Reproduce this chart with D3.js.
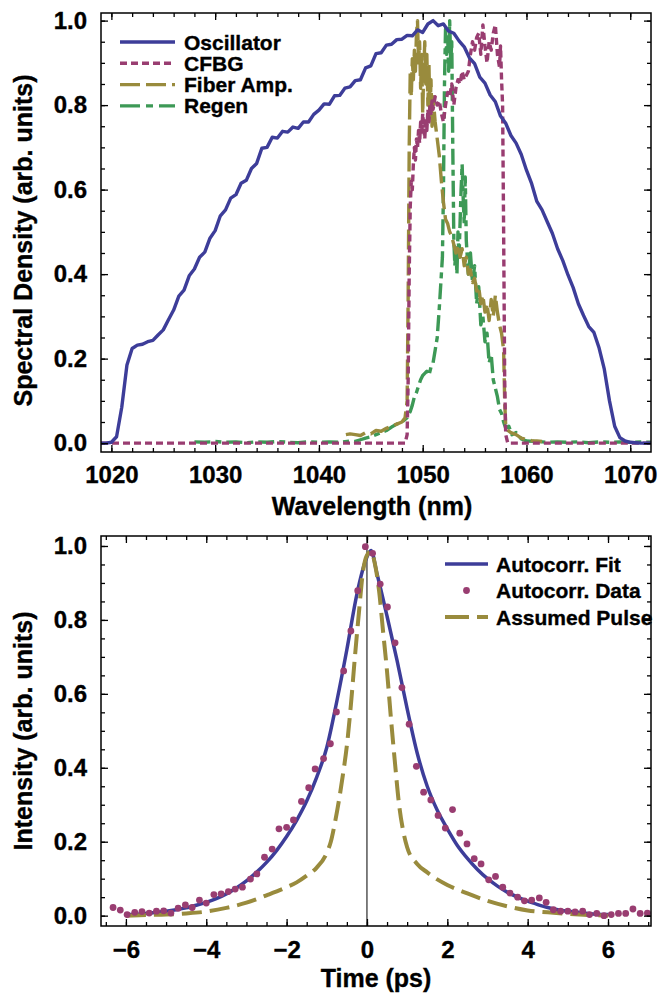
<!DOCTYPE html>
<html lang="en">
<head>
<meta charset="UTF-8">
<title>Spectra and autocorrelation</title>
<script src="https://d3js.org/d3.v7.min.js"></script>
<style>
  body { margin: 0; background: #fff; }
  svg text { font-family: "Liberation Sans", Arial, Helvetica, sans-serif; font-weight: bold; fill: #000; stroke: #000; stroke-width: 0.35px; }
  .axis text { font-size: 24px; }
  .axis line { stroke: #000; stroke-width: 1.3px; }
  .title { font-size: 25px; }
  .legend text { font-size: 21px; }
</style>
</head>
<body>
<div id="chart"></div>
<script>

// ---------- top panel: spectra, [wavelength nm, spectral density] ----------
const oscillator = [[1019.0,0.000],[1019.5,0.000],[1020.0,0.002],[1020.5,0.015],[1021.0,0.085],[1021.5,0.185],[1022.0,0.224],[1022.5,0.232],[1023.0,0.234],[1023.5,0.240],[1024.0,0.243],[1024.5,0.256],[1025.0,0.268],[1025.5,0.292],[1026.0,0.315],[1026.5,0.348],[1027.0,0.362],[1027.5,0.396],[1028.0,0.412],[1028.5,0.440],[1029.0,0.452],[1029.5,0.485],[1030.0,0.503],[1030.5,0.538],[1031.0,0.552],[1031.5,0.580],[1032.0,0.588],[1032.5,0.615],[1033.0,0.622],[1033.5,0.650],[1034.0,0.662],[1034.5,0.698],[1035.0,0.700],[1035.5,0.724],[1036.0,0.722],[1036.5,0.738],[1037.0,0.736],[1037.5,0.748],[1038.0,0.745],[1038.5,0.760],[1039.0,0.760],[1039.5,0.778],[1040.0,0.788],[1040.5,0.803],[1041.0,0.802],[1041.5,0.822],[1042.0,0.823],[1042.5,0.840],[1043.0,0.843],[1043.5,0.858],[1044.0,0.860],[1044.5,0.888],[1045.0,0.893],[1045.5,0.922],[1046.0,0.924],[1046.5,0.942],[1047.0,0.944],[1047.5,0.955],[1048.0,0.956],[1048.5,0.965],[1049.0,0.964],[1049.5,0.978],[1050.0,0.972],[1050.5,0.992],[1051.0,1.000],[1051.5,0.988],[1052.0,0.992],[1052.5,0.975],[1053.0,0.970],[1053.5,0.952],[1054.0,0.938],[1054.5,0.912],[1055.0,0.898],[1055.5,0.866],[1056.0,0.852],[1056.5,0.824],[1057.0,0.808],[1057.5,0.774],[1058.0,0.757],[1058.5,0.728],[1059.0,0.710],[1059.5,0.683],[1060.0,0.646],[1060.5,0.614],[1061.0,0.572],[1061.5,0.552],[1062.0,0.524],[1062.5,0.496],[1063.0,0.460],[1063.5,0.432],[1064.0,0.398],[1064.5,0.368],[1065.0,0.330],[1065.5,0.302],[1066.0,0.276],[1066.5,0.262],[1067.0,0.225],[1067.5,0.175],[1068.0,0.100],[1068.5,0.040],[1069.0,0.013],[1069.5,0.005],[1070.0,0.002],[1070.5,0.001],[1071.0,0.000],[1072.0,0.000]];

const cfbg = [[1019.0,0.0],[1048.3,0.0],[1048.5,0.02],[1048.6,0.15],[1048.7,0.40],[1048.8,0.56],[1048.9,0.62],[1049.0,0.60],[1049.1,0.66],[1049.2,0.70],[1049.3,0.67],[1049.4,0.72],[1049.5,0.70],[1049.6,0.74],[1049.7,0.71],[1049.8,0.76],[1049.9,0.73],[1050.0,0.78],[1050.1,0.75],[1050.2,0.72],[1050.3,0.77],[1050.4,0.74],[1050.5,0.79],[1050.6,0.76],[1050.7,0.80],[1050.8,0.78],[1050.9,0.81],[1051.0,0.79],[1051.2,0.82],[1051.4,0.80],[1051.6,0.81],[1051.8,0.78],[1052.0,0.76],[1052.2,0.80],[1052.4,0.83],[1052.6,0.82],[1052.8,0.85],[1053.0,0.80],[1053.2,0.84],[1053.4,0.86],[1053.6,0.85],[1053.8,0.88],[1054.0,0.86],[1054.2,0.87],[1054.4,0.88],[1054.6,0.92],[1054.8,0.95],[1055.0,0.93],[1055.2,0.96],[1055.4,0.97],[1055.6,0.92],[1055.8,0.99],[1056.0,0.94],[1056.2,0.90],[1056.4,0.95],[1056.6,0.93],[1056.8,0.97],[1057.0,0.99],[1057.2,0.92],[1057.4,0.89],[1057.5,0.94],[1057.6,0.86],[1057.7,0.80],[1057.8,0.50],[1057.9,0.15],[1058.0,0.02],[1058.2,0.0],[1072.0,0.0]];

const fiberAmp = [[1042.6,0.020],[1043.0,0.022],[1043.5,0.020],[1044.0,0.018],[1044.5,0.025],[1045.0,0.022],[1045.5,0.030],[1046.0,0.028],[1046.5,0.035],[1047.0,0.040],[1047.5,0.045],[1048.0,0.050],[1048.3,0.060],[1048.5,0.10],[1048.6,0.35],[1048.7,0.70],[1048.8,0.88],[1048.9,0.82],[1049.0,0.91],[1049.1,0.86],[1049.2,0.93],[1049.3,0.88],[1049.4,0.97],[1049.5,1.00],[1049.6,0.90],[1049.7,0.95],[1049.8,0.84],[1049.9,0.92],[1050.0,0.78],[1050.1,0.88],[1050.2,0.95],[1050.3,0.85],[1050.4,0.92],[1050.5,0.80],[1050.6,0.90],[1050.7,0.77],[1050.8,0.86],[1050.9,0.75],[1051.0,0.82],[1051.2,0.76],[1051.4,0.72],[1051.6,0.68],[1051.8,0.62],[1052.0,0.57],[1052.2,0.53],[1052.4,0.52],[1052.6,0.50],[1052.8,0.49],[1053.0,0.47],[1053.2,0.45],[1053.4,0.47],[1053.6,0.44],[1053.8,0.46],[1054.0,0.42],[1054.2,0.44],[1054.4,0.40],[1054.6,0.41],[1054.8,0.38],[1055.0,0.39],[1055.2,0.36],[1055.4,0.37],[1055.6,0.33],[1055.8,0.35],[1056.0,0.31],[1056.2,0.33],[1056.4,0.29],[1056.6,0.34],[1056.8,0.30],[1057.0,0.35],[1057.2,0.31],[1057.4,0.28],[1057.6,0.26],[1057.8,0.22],[1057.9,0.10],[1058.0,0.040],[1058.2,0.030],[1058.5,0.025],[1059.0,0.020],[1059.5,0.012],[1060.0,0.008],[1060.5,0.006],[1061.0,0.005],[1061.5,0.004]];

const regen = [[1028.0,0.003],[1029.0,0.002],[1030.0,0.004],[1031.0,0.002],[1032.0,0.003],[1033.0,0.001],[1034.0,0.003],[1035.0,0.002],[1036.0,0.004],[1037.0,0.002],[1038.0,0.001],[1039.0,0.003],[1040.0,0.002],[1041.0,0.003],[1042.0,0.002],[1043.0,0.005],[1043.5,0.004],[1044.0,0.008],[1044.5,0.012],[1045.0,0.015],[1045.5,0.020],[1046.0,0.025],[1046.5,0.030],[1047.0,0.038],[1047.5,0.045],[1048.0,0.050],[1048.5,0.060],[1048.8,0.075],[1049.0,0.090],[1049.2,0.110],[1049.4,0.120],[1049.6,0.135],[1049.8,0.150],[1050.0,0.160],[1050.2,0.165],[1050.4,0.170],[1050.6,0.160],[1050.8,0.180],[1051.0,0.190],[1051.2,0.220],[1051.4,0.250],[1051.6,0.320],[1051.8,0.400],[1051.9,0.440],[1052.0,0.600],[1052.1,0.850],[1052.2,0.980],[1052.3,0.920],[1052.4,0.970],[1052.5,0.880],[1052.6,1.000],[1052.7,0.900],[1052.8,0.950],[1052.9,0.700],[1053.0,0.480],[1053.1,0.420],[1053.2,0.460],[1053.3,0.400],[1053.4,0.500],[1053.5,0.440],[1053.6,0.520],[1053.7,0.600],[1053.8,0.660],[1053.9,0.580],[1054.0,0.520],[1054.1,0.630],[1054.2,0.480],[1054.3,0.440],[1054.4,0.400],[1054.6,0.450],[1054.8,0.380],[1055.0,0.420],[1055.2,0.330],[1055.4,0.370],[1055.6,0.280],[1055.8,0.300],[1056.0,0.240],[1056.2,0.260],[1056.4,0.190],[1056.6,0.210],[1056.8,0.150],[1057.0,0.130],[1057.2,0.110],[1057.4,0.080],[1057.6,0.070],[1057.8,0.050],[1058.0,0.035],[1058.3,0.040],[1058.6,0.020],[1059.0,0.025],[1059.5,0.010],[1060.0,0.005],[1061.0,0.004],[1062.0,0.002],[1063.0,0.003],[1064.0,0.002],[1065.0,0.003],[1066.0,0.001],[1067.0,0.003],[1068.0,0.002],[1069.0,0.003],[1070.0,0.002],[1071.0,0.003],[1072.0,0.002]];

const spectraNames = ["Oscillator", "CFBG", "Fiber Amp.", "Regen"];
const wavelengthTicks = [1020, 1030, 1040, 1050, 1060, 1070];
const densityTicks = [0, 0.2, 0.4, 0.6, 0.8, 1.0];

// ---------- bottom panel: autocorrelation ----------
const fitTime  = [-6.0,-5.75,-5.5,-5.25,-5.0,-4.75,-4.5,-4.25,-4.0,-3.75,-3.5,-3.25,-3.0,-2.75,-2.5,-2.25,-2.0,-1.75,-1.5,-1.25,-1.0,-0.75,-0.5,-0.25,0.0,0.1,0.25,0.5,0.75,1.0,1.25,1.5,1.75,2.0,2.25,2.5,2.75,3.0,3.25,3.5,3.75,4.0,4.25,4.5,4.75,5.0,5.25,5.5,5.75,6.0];
const fitValue = [0.003,0.004,0.006,0.009,0.012,0.016,0.021,0.028,0.036,0.046,0.059,0.075,0.094,0.117,0.144,0.176,0.214,0.258,0.310,0.375,0.455,0.580,0.720,0.870,0.970,0.988,0.925,0.810,0.690,0.560,0.440,0.350,0.285,0.235,0.190,0.155,0.125,0.100,0.080,0.063,0.050,0.039,0.030,0.022,0.016,0.012,0.009,0.006,0.004,0.003];

const dataTime  = [-6.32,-6.14,-5.97,-5.78,-5.60,-5.42,-5.24,-5.06,-4.88,-4.70,-4.52,-4.35,-4.17,-4.00,-3.81,-3.63,-3.45,-3.28,-3.10,-2.90,-2.74,-2.55,-2.36,-2.19,-2.00,-1.83,-1.63,-1.45,-1.29,-1.08,-0.91,-0.76,-0.58,-0.40,-0.23,-0.04,0.14,0.33,0.51,0.70,0.87,1.05,1.23,1.41,1.59,1.77,1.95,2.13,2.31,2.49,2.67,2.84,3.03,3.20,3.38,3.56,3.75,3.92,4.10,4.29,4.46,4.64,4.82,5.00,5.18,5.37,5.54,5.72,5.90,6.08,6.26,6.44,6.62,6.80,6.98];
const dataValue = [0.022,0.015,0.003,0.009,0.011,0.007,0.012,0.013,0.007,0.020,0.029,0.022,0.042,0.034,0.057,0.059,0.065,0.072,0.077,0.099,0.113,0.158,0.180,0.235,0.239,0.259,0.309,0.346,0.397,0.425,0.465,0.551,0.662,0.770,0.879,0.998,0.980,0.897,0.835,0.738,0.617,0.518,0.404,0.334,0.313,0.271,0.237,0.287,0.223,0.194,0.154,0.140,0.097,0.106,0.077,0.061,0.050,0.040,0.042,0.048,0.036,0.016,0.012,0.012,0.010,0.012,0.003,0.006,0.000,0.003,0.006,0.006,0.018,0.006,0.007];

const pulseTime  = [-6.0,-5.5,-5.0,-4.5,-4.0,-3.5,-3.0,-2.5,-2.0,-1.75,-1.5,-1.25,-1.0,-0.9,-0.8,-0.7,-0.6,-0.5,-0.4,-0.3,-0.2,-0.1,0.0,0.1,0.2,0.3,0.4,0.5,0.6,0.7,0.8,0.9,1.0,1.25,1.5,1.75,2.0,2.5,3.0,3.5,4.0,4.5,5.0,5.5,6.0];
const pulseValue = [0.000,0.002,0.003,0.006,0.011,0.021,0.035,0.055,0.077,0.090,0.108,0.130,0.170,0.200,0.250,0.310,0.380,0.460,0.570,0.700,0.820,0.930,0.975,0.985,0.950,0.880,0.770,0.660,0.530,0.410,0.300,0.230,0.185,0.140,0.117,0.098,0.083,0.060,0.040,0.025,0.014,0.009,0.005,0.002,0.000];

const autocorrNames = ["Autocorr. Fit", "Autocorr. Data", "Assumed Pulse"];
const timeTicks = [-6, -4, -2, 0, 2, 4, 6];
const intensityTicks = [0, 0.2, 0.4, 0.6, 0.8, 1.0];

// ---------- colours ----------
const blue = "#3d3d99", magenta = "#993d71", gold = "#998b3d", green = "#3d9956";

const svg = d3.select("#chart").append("svg")
    .attr("width", 658)
    .attr("height", 996);

// draws the framed box with inward ticks on all sides
function frame(g, x, y, w, h, xMajor, xMinor, yMajor, yMinor, xFmt, yFmt, xPad) {
    // minor ticks
    g.append("g").attr("class", "axis").attr("transform", "translate(0," + h + ")")
        .call(d3.axisBottom(x).tickValues(xMinor).tickSize(-4).tickFormat(""));
    g.append("g").attr("class", "axis")
        .call(d3.axisTop(x).tickValues(xMinor).tickSize(-4).tickFormat(""));
    g.append("g").attr("class", "axis")
        .call(d3.axisLeft(y).tickValues(yMinor).tickSize(-4).tickFormat(""));
    g.append("g").attr("class", "axis").attr("transform", "translate(" + w + ",0)")
        .call(d3.axisRight(y).tickValues(yMinor).tickSize(-4).tickFormat(""));
    // major ticks with labels on bottom and left
    g.append("g").attr("class", "axis").attr("transform", "translate(0," + h + ")")
        .call(d3.axisBottom(x).tickValues(xMajor).tickSize(-7).tickPadding(xPad).tickFormat(xFmt));
    g.append("g").attr("class", "axis")
        .call(d3.axisTop(x).tickValues(xMajor).tickSize(-7).tickFormat(""));
    g.append("g").attr("class", "axis")
        .call(d3.axisLeft(y).tickValues(yMajor).tickSize(-7).tickPadding(14).tickFormat(yFmt));
    g.append("g").attr("class", "axis").attr("transform", "translate(" + w + ",0)")
        .call(d3.axisRight(y).tickValues(yMajor).tickSize(-7).tickFormat(""));
    g.selectAll(".domain").remove();

    g.append("rect")
        .attr("width", w).attr("height", h)
        .attr("fill", "none").attr("stroke", "#000").attr("stroke-width", 1.5);
}

// ===================== top panel =====================
const topBox = { left: 101, top: 13, width: 550, height: 439 };
const gTop = svg.append("g").attr("transform", "translate(" + topBox.left + "," + topBox.top + ")");

const xWl = d3.scaleLinear().domain([1019, 1072]).range([0, topBox.width]);
const yDen = d3.scaleLinear().domain([-0.021, 1.018]).range([topBox.height, 0]);

gTop.append("clipPath").attr("id", "clipTop")
    .append("rect").attr("width", topBox.width).attr("height", topBox.height);

const lineTop = d3.line()
    .x(function (d) { return xWl(d[0]); })
    .y(function (d) { return yDen(d[1]); });

const spectra = [
    { data: regen, color: green, dash: "16,5,6,5" },
    { data: fiberAmp, color: gold, dash: "20,6" },
    { data: cfbg, color: magenta, dash: "7,4" },
    { data: oscillator, color: blue, dash: null }
];

const curvesTop = gTop.append("g").attr("clip-path", "url(#clipTop)");
spectra.forEach(function (s) {
    curvesTop.append("path")
        .datum(s.data)
        .attr("d", lineTop)
        .attr("fill", "none")
        .attr("stroke", s.color)
        .attr("stroke-width", 3.4)
        .attr("stroke-linejoin", "round")
        .attr("stroke-dasharray", s.dash);
});

frame(gTop, xWl, yDen, topBox.width, topBox.height,
    wavelengthTicks, d3.range(1020, 1072, 2),
    densityTicks, d3.range(0, 1.01, 0.05),
    d3.format("d"), d3.format(".1f"), 14);

// legend (top)
const legTop = svg.append("g").attr("class", "legend");
const legStyles = [
    { color: blue, dash: null },
    { color: magenta, dash: "7,4" },
    { color: gold, dash: "20,6" },
    { color: green, dash: "20,6,7,6" }
];
spectraNames.forEach(function (name, i) {
    const yy = 42 + i * 21.3;
    legTop.append("line")
        .attr("x1", 120).attr("x2", 175).attr("y1", yy).attr("y2", yy)
        .attr("stroke", legStyles[i].color).attr("stroke-width", 3.4)
        .attr("stroke-dasharray", legStyles[i].dash);
    legTop.append("text").attr("x", 184).attr("y", yy + 7.5).text(name);
});

// axis titles (top)
svg.append("text").attr("class", "title")
    .attr("text-anchor", "middle")
    .attr("x", topBox.left + topBox.width / 2 - 4)
    .attr("y", 515)
    .text("Wavelength (nm)");
svg.append("text").attr("class", "title")
    .attr("text-anchor", "middle")
    .attr("transform", "translate(32," + (topBox.top + topBox.height / 2 + 8) + ") rotate(-90)")
    .text("Spectral Density (arb. units)");

// ===================== bottom panel =====================
const botBox = { left: 101, top: 536, width: 550, height: 390 };
const gBot = svg.append("g").attr("transform", "translate(" + botBox.left + "," + botBox.top + ")");

const xT = d3.scaleLinear().domain([-6.62, 7.07]).range([0, botBox.width]);
const yI = d3.scaleLinear().domain([-0.028, 1.027]).range([botBox.height, 0]);

gBot.append("clipPath").attr("id", "clipBot")
    .append("rect").attr("width", botBox.width).attr("height", botBox.height);

const curvesBot = gBot.append("g").attr("clip-path", "url(#clipBot)");

// vertical line at t = 0
curvesBot.append("line")
    .attr("x1", xT(0)).attr("x2", xT(0))
    .attr("y1", 0).attr("y2", botBox.height)
    .attr("stroke", "#000").attr("stroke-width", 1);

const lineFit = d3.line()
    .x(function (d, i) { return xT(fitTime[i]); })
    .y(function (d) { return yI(d); })
    .curve(d3.curveMonotoneX);
curvesBot.append("path")
    .datum(fitValue)
    .attr("d", lineFit)
    .attr("fill", "none")
    .attr("stroke", blue)
    .attr("stroke-width", 3.5);

const linePulse = d3.line()
    .x(function (d, i) { return xT(pulseTime[i]); })
    .y(function (d) { return yI(d); })
    .curve(d3.curveMonotoneX);
curvesBot.append("path")
    .datum(pulseValue)
    .attr("d", linePulse)
    .attr("fill", "none")
    .attr("stroke", gold)
    .attr("stroke-width", 4)
    .attr("stroke-dasharray", "20,8");

curvesBot.append("g")
    .selectAll("circle")
    .data(dataValue)
    .enter()
    .append("circle")
    .attr("cx", function (d, i) { return xT(dataTime[i]); })
    .attr("cy", function (d) { return yI(d); })
    .attr("r", 3.4)
    .attr("fill", magenta);

frame(gBot, xT, yI, botBox.width, botBox.height,
    timeTicks, d3.range(-6.5, 7.01, 0.5),
    intensityTicks, d3.range(0, 1.01, 0.05),
    d3.format("d"), d3.format(".1f"), 15);

// legend (bottom)
const legBot = svg.append("g").attr("class", "legend");
autocorrNames.forEach(function (name, i) {
    const yy = 564 + i * 26.5;
    if (i === 1) {
        legBot.append("circle").attr("cx", 466.5).attr("cy", yy).attr("r", 3.4).attr("fill", magenta);
    } else {
        legBot.append("line")
            .attr("x1", 445).attr("x2", 488).attr("y1", yy).attr("y2", yy)
            .attr("stroke", i === 0 ? blue : gold)
            .attr("stroke-width", i === 0 ? 3.5 : 4)
            .attr("stroke-dasharray", i === 0 ? null : "24,8");
    }
    legBot.append("text").attr("x", 496).attr("y", yy + 7.5).text(name);
});

// axis titles (bottom)
svg.append("text").attr("class", "title")
    .attr("text-anchor", "middle")
    .attr("x", botBox.left + botBox.width / 2)
    .attr("y", 987)
    .text("Time (ps)");
svg.append("text").attr("class", "title")
    .attr("text-anchor", "middle")
    .attr("transform", "translate(32," + (botBox.top + botBox.height / 2) + ") rotate(-90)")
    .text("Intensity (arb. units)");

</script>
</body>
</html>
